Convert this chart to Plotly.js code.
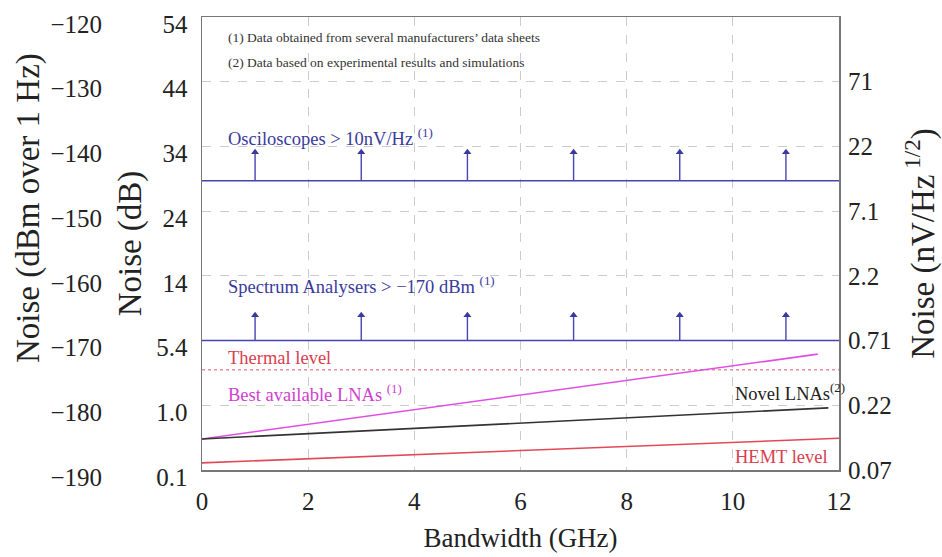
<!DOCTYPE html>
<html>
<head>
<meta charset="utf-8">
<script src="https://cdn.plot.ly/plotly-3.0.1.min.js"></script>
<style>html,body{margin:0;padding:0;background:#fff}#chart{width:942px;height:557px}</style>
</head>
<body>
<div id="chart"></div>
<script>
// ---- data (noise levels in dBm over 1 Hz, bandwidth in GHz) ----
const xRange = [0, 12];
const yRange = [-190, -120];
const dbmTicks = [-120, -130, -140, -150, -160, -170, -180, -190];
const dbmTickText = ['\u2212120', '\u2212130', '\u2212140', '\u2212150', '\u2212160', '\u2212170', '\u2212180', '\u2212190'];
const dbTickText = ['54', '44', '34', '24', '14', '5.4', '1.0', '0.1'];
const nvTicks = [-130, -140, -150, -160, -170, -180, -190];
const nvTickText = ['71', '22', '7.1', '2.2', '0.71', '0.22', '0.07'];
const xTicks = [0, 2, 4, 6, 8, 10, 12];

const thermalX = [0, 12];
const thermalY = [-174.5, -174.5];
const oscX = [0, 12];
const oscY = [-145.3, -145.3];
const saX = [0, 12];
const saY = [-170, -170];
const arrowX = [1, 3, 5, 7, 9, 11];
const oscArrowTip = -140.9;
const saArrowTip = -166.1;
const bestLnaX = [0, 11.6];
const bestLnaY = [-185.2, -172.1];
const novelLnaX = [0, 11.8];
const novelLnaY = [-185.2, -180.4];
const hemtX = [0, 12];
const hemtY = [-188.9, -185.1];

const FONT = '"Liberation Serif", "Times New Roman", Times, serif';
const BLUE = '#4444b2';
const BLUE_TXT = '#3a3a9c';
const RED = '#e04a58';
const MAG = '#e050e0';

function stems(xs, base, tip) {
  const x = [], y = [];
  xs.forEach(v => { x.push(v, v, null); y.push(base, tip, null); });
  return {x, y};
}
const oscStem = stems(arrowX, oscY[0], oscArrowTip);
const saStem = stems(arrowX, saY[0], saArrowTip);

const traces = [
  {x: thermalX, y: thermalY, mode: 'lines', line: {color: '#e8909a', width: 1.5, dash: 'dot'}, hoverinfo: 'skip'},
  {x: oscX, y: oscY, mode: 'lines', line: {color: BLUE, width: 1.6}},
  {x: saX, y: saY, mode: 'lines', line: {color: BLUE, width: 1.6}},
  {x: oscStem.x, y: oscStem.y, mode: 'lines', line: {color: BLUE, width: 1.4}},
  {x: saStem.x, y: saStem.y, mode: 'lines', line: {color: BLUE, width: 1.4}},
  {x: arrowX, y: arrowX.map(() => oscArrowTip), mode: 'markers', marker: {symbol: 'triangle-up', size: 7, color: BLUE_TXT}},
  {x: arrowX, y: arrowX.map(() => saArrowTip), mode: 'markers', marker: {symbol: 'triangle-up', size: 7, color: BLUE_TXT}},
  {x: bestLnaX, y: bestLnaY, mode: 'lines', line: {color: MAG, width: 1.6}},
  {x: novelLnaX, y: novelLnaY, mode: 'lines', line: {color: '#333333', width: 1.6}},
  {x: hemtX, y: hemtY, mode: 'lines', line: {color: RED, width: 1.6}}
];

const W = 942, H = 557;
const plotLeft = 202, plotRight = 839;
const mL = 0, mR = W - plotRight, mT = 17, mB = H - 470;
const paperW = W - mL - mR;

const tickFont = {family: FONT, size: 25, color: '#222'};

const layout = {
  width: W, height: H,
  margin: {l: mL, r: mR, t: mT, b: mB, pad: 0},
  paper_bgcolor: '#fff', plot_bgcolor: '#fff',
  showlegend: false,
  font: {family: FONT, color: '#222'},
  xaxis: {
    domain: [(plotLeft - mL) / paperW, 1],
    range: xRange, tickmode: 'array', tickvals: xTicks,
    ticks: '', tickfont: tickFont, ticklabelstandoff: 8, ticklabeloverflow: 'allow',
    showline: true, mirror: true, linecolor: '#777', linewidth: 1.5,
    showgrid: true, gridcolor: '#cccccc', griddash: 'dash', gridwidth: 1,
    zeroline: false,
    title: {text: 'Bandwidth (GHz)', font: {family: FONT, size: 27, color: '#222'}, standoff: 14}
  },
  yaxis: {
    range: yRange, tickmode: 'array', tickvals: dbmTicks, ticktext: dbTickText,
    ticks: '', tickfont: tickFont, ticklabelstandoff: 8, ticklabelshift: 7, ticklabeloverflow: 'allow',
    showline: true, mirror: true, linecolor: '#777', linewidth: 1.5,
    showgrid: true, gridcolor: '#cccccc', griddash: 'dash', gridwidth: 1,
    zeroline: false,
    title: {text: 'Noise (dB)', font: {family: FONT, size: 33, color: '#222'}, standoff: 4}
  },
  yaxis2: {
    overlaying: 'y', anchor: 'free', side: 'left', position: 102 / paperW,
    range: yRange, tickmode: 'array', tickvals: dbmTicks, ticktext: dbmTickText,
    ticks: '', tickfont: tickFont, ticklabelshift: 7, ticklabeloverflow: 'allow',
    showline: false, showgrid: false, zeroline: false
  },
  yaxis3: {
    overlaying: 'y', anchor: 'x', side: 'right',
    range: yRange, tickmode: 'array', tickvals: nvTicks, ticktext: nvTickText,
    ticks: '', tickfont: tickFont, ticklabelstandoff: 8, ticklabeloverflow: 'allow',
    showline: false, showgrid: false, zeroline: false,
    title: {text: 'Noise (nV/Hz<sup> 1/2</sup>)', font: {family: FONT, size: 33, color: '#222'}, standoff: 20}
  },
  annotations: [
    {xref: 'paper', yref: 'paper', x: 28 / paperW, y: (470 - 208) / 453, text: 'Noise (dBm over 1 Hz)',
     textangle: -90, showarrow: false, font: {family: FONT, size: 33, color: '#222'}, xanchor: 'center', yanchor: 'middle'},
    {x: 0.45, y: -123.1, text: '(1) Data obtained from several manufacturers\u2019 data sheets', showarrow: false,
     xanchor: 'left', yanchor: 'middle', font: {family: FONT, size: 13.5, color: '#333'}},
    {x: 0.45, y: -127.1, text: '(2) Data based on experimental results and simulations', showarrow: false,
     xanchor: 'left', yanchor: 'middle', font: {family: FONT, size: 13.5, color: '#333'}},
    {x: 0.45, y: -138.5, text: 'Osciloscopes > 10nV/Hz <sup>(1)</sup>', showarrow: false,
     xanchor: 'left', yanchor: 'middle', font: {family: FONT, size: 18.5, color: BLUE_TXT}},
    {x: 0.45, y: -161.4, text: 'Spectrum Analysers > \u2212170 dBm <sup>(1)</sup>', showarrow: false,
     xanchor: 'left', yanchor: 'middle', font: {family: FONT, size: 18.5, color: BLUE_TXT}},
    {x: 0.45, y: -172.7, text: 'Thermal level', showarrow: false,
     xanchor: 'left', yanchor: 'middle', font: {family: FONT, size: 18.5, color: '#d8404e'}},
    {x: 0.45, y: -178.1, text: 'Best available LNAs <sup>(1)</sup>', showarrow: false,
     xanchor: 'left', yanchor: 'middle', font: {family: FONT, size: 18.5, color: '#d040d0'}},
    {x: 10.0, y: -178.0, text: 'Novel LNAs<sup>(2)</sup>', showarrow: false,
     xanchor: 'left', yanchor: 'middle', font: {family: FONT, size: 18.5, color: '#222'}},
    {x: 10.0, y: -188.0, text: 'HEMT level', showarrow: false,
     xanchor: 'left', yanchor: 'middle', font: {family: FONT, size: 18.5, color: '#d8404e'}}
  ]
};

// assign overlay axes to invisible anchor traces so they render
traces.push({x: [0], y: [-190], yaxis: 'y2', mode: 'markers', marker: {opacity: 0}, hoverinfo: 'skip'});
traces.push({x: [0], y: [-190], yaxis: 'y3', mode: 'markers', marker: {opacity: 0}, hoverinfo: 'skip'});

Plotly.newPlot('chart', traces, layout, {staticPlot: true, displayModeBar: false});
</script>
</body>
</html>
